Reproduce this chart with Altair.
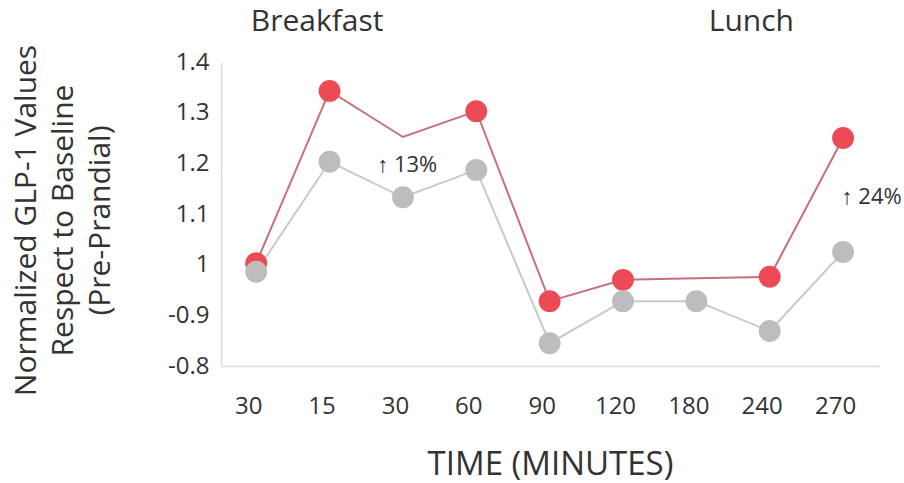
import altair as alt
import pandas as pd

# Time points (minutes) shown along the x axis
time_labels = ["30", "15", "30", "60", "90", "120", "180", "240", "270"]

# Normalized GLP-1 relative to pre-prandial baseline
red_values = [1.003, 1.343, 1.252, 1.303, 0.928, 0.970, 0.973, 0.976, 1.250]
red_marked = [True, True, False, True, True, True, False, True, True]
gray_values = [0.986, 1.203, 1.133, 1.187, 0.845, 0.928, 0.928, 0.869, 1.025]

# Annotated increases
notes = ["\u2191 13%", "\u2191 24%"]
note_idx = [1.65, 7.98]
note_val = [1.197, 1.133]

# Meal headings
meals = ["Breakfast", "Lunch"]
meal_idx = [0.83, 6.75]

FONT = "Open Sans"
TEXT = "#333333"
RED = "#ec4b56"
RED_LINE = "#c8707a"
GRAY = "#bdbdbd"
GRAY_LINE = "#c9c9c9"

n = len(time_labels)
red_df = pd.DataFrame({"idx": range(n), "value": red_values, "marked": red_marked})
gray_df = pd.DataFrame({"idx": range(n), "value": gray_values})
note_df = pd.DataFrame({"idx": note_idx, "value": note_val, "text": notes})
meal_df = pd.DataFrame({"idx": meal_idx, "text": meals})

label_array = "[" + ",".join(f"'{t}'" for t in time_labels) + "]"

x_scale = alt.Scale(domain=[-0.48, 8.49], nice=False, zero=False)
y_scale = alt.Scale(domain=[0.8, 1.4], nice=False, zero=False)

x_axis = alt.Axis(
    values=list(range(n)),
    labelExpr=f"{label_array}[round(datum.value)]",
    title="TIME (MINUTES)",
    titleFont=FONT, titleFontSize=33, titleFontWeight="normal", titleColor=TEXT,
    titlePadding=30,
    labelFont=FONT, labelFontSize=24, labelColor=TEXT, labelPadding=28,
    labelOffset=-8,
    ticks=False, grid=False, domainColor="#d9d9d9", domainWidth=1.5,
)
y_axis = alt.Axis(
    values=[0.8, 0.9, 1.0, 1.1, 1.2, 1.3, 1.4],
    labelExpr="abs(datum.value - 1) < 0.001 ? '1' : (datum.value < 1 ? '-' + format(datum.value, '.1f') : format(datum.value, '.1f'))",
    title=["Normalized GLP-1 Values", "Respect to Baseline", "(Pre-Prandial)"],
    titleFont=FONT, titleFontSize=30, titleFontWeight="normal", titleColor=TEXT,
    titleAnchor="middle", titleLineHeight=37,
    titleX=-195, titleY=158, titleAngle=-90,
    titleAlign="center", titleBaseline="middle",
    labelFont=FONT, labelFontSize=24, labelColor=TEXT, labelPadding=12,
    ticks=False, grid=False, domainColor="#d9d9d9", domainWidth=1.5,
)

x_enc = alt.X("idx:Q", scale=x_scale, axis=x_axis)
y_enc = alt.Y("value:Q", scale=y_scale, axis=y_axis)

gray_line = alt.Chart(gray_df).mark_line(color=GRAY_LINE, strokeWidth=2).encode(x=x_enc, y=y_enc)
red_line = alt.Chart(red_df).mark_line(color=RED_LINE, strokeWidth=2).encode(x=x_enc, y=y_enc)
red_pts = alt.Chart(red_df).transform_filter("datum.marked").mark_circle(
    color=RED, size=480, opacity=1
).encode(x=x_enc, y=y_enc)
gray_pts = alt.Chart(gray_df).mark_circle(color=GRAY, size=480, opacity=1).encode(x=x_enc, y=y_enc)

note_text = alt.Chart(note_df).mark_text(
    font=FONT, fontSize=22, color=TEXT, align="left", baseline="middle"
).encode(x=alt.X("idx:Q", scale=x_scale), y=alt.Y("value:Q", scale=y_scale), text="text:N")

meal_text = alt.Chart(meal_df).mark_text(
    font=FONT, fontSize=30, color=TEXT, align="center", baseline="middle"
).encode(x=alt.X("idx:Q", scale=x_scale), y=alt.value(-40), text="text:N")

chart = alt.layer(
    gray_line, red_line, red_pts, gray_pts, note_text, meal_text
).properties(
    width=658, height=304,
    padding={"left": 221, "top": 62, "right": 25, "bottom": 117},
    autosize=alt.AutoSizeParams(type="none"),
    background="white",
).configure_view(stroke=None)

chart.save("out.html", embed_options={"renderer": "svg", "actions": False})
